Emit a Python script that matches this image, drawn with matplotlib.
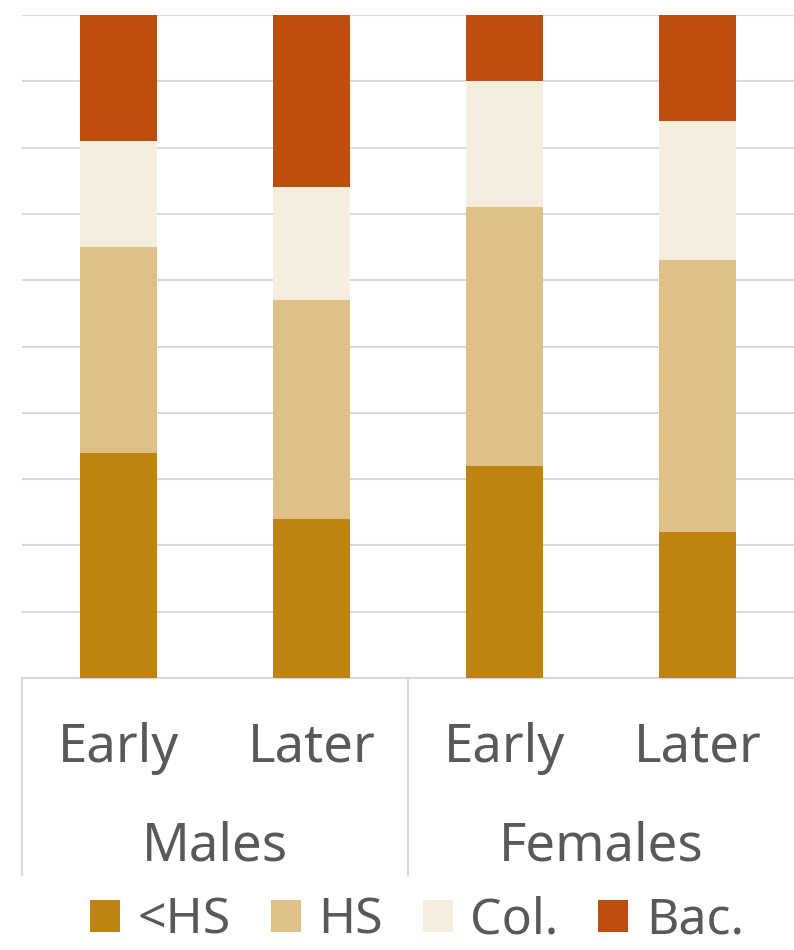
import numpy as np
import matplotlib
matplotlib.use('Agg')
from matplotlib import pyplot as plt
from matplotlib.patches import Patch
import matplotlib.transforms as mtransforms

plt.rcParams['font.family'] = ['Noto Sans', 'DejaVu Sans']

# data (shares in %)
groups = ['Males', 'Females']
periods = ['Early', 'Later', 'Early', 'Later']
levels = ['<HS', 'HS', 'Col.', 'Bac.']
less_hs = [34, 24, 32, 22]
hs = [31, 33, 39, 41]
col = [16, 17, 19, 21]
bac = [19, 26, 10, 16]

colors = ['#BF830F', '#DFC088', '#F5EDDE', '#BE4E0E']
text_col = '#595959'
grid_col = '#D9D9D9'

fig = plt.figure(figsize=(7.94, 9.5), dpi=100)
ax = fig.add_axes([22 / 794, 272 / 950, 772 / 794, 663 / 950])

x = np.arange(len(periods))
bottom = np.zeros(len(periods))
for vals, c, lab in zip([less_hs, hs, col, bac], colors, levels):
    ax.bar(x, vals, width=0.4, bottom=bottom, color=c, label=lab, zorder=3)
    bottom += np.array(vals)

ax.set_xlim(-0.5, 3.5)
ax.set_ylim(0, 100)
ax.set_yticks(np.arange(0, 101, 10))
ax.yaxis.grid(True, color=grid_col, lw=1.5, zorder=0)
ax.tick_params(left=False, labelleft=False, bottom=False, labelbottom=False)
for s in ['top', 'right', 'left']:
    ax.spines[s].set_visible(False)
ax.spines['bottom'].set_color(grid_col)
ax.spines['bottom'].set_linewidth(1.5)

# two-level category axis
trans = mtransforms.blended_transform_factory(ax.transData, ax.transAxes)
for xi, p in zip(x, periods):
    ax.text(xi, -0.106, p, transform=trans, ha='center', va='center',
            fontsize=38, color=text_col)
for gi, g in enumerate(groups):
    ax.text(gi * 2 + 0.5, -0.255, g, transform=trans, ha='center', va='center',
            fontsize=38, color=text_col)
for sx in [-0.5, 1.5]:
    ax.plot([sx, sx], [0, -0.297], transform=trans, color=grid_col, lw=1.5,
            clip_on=False)

handles = [Patch(facecolor=c, label=l) for c, l in zip(colors, levels)]
fig.legend(handles=handles, loc='center', bbox_to_anchor=(0.525, 0.031), ncol=4,
           frameon=False, fontsize=36, handlelength=0.6, handleheight=0.6,
           handletextpad=0.35, columnspacing=0.8, labelcolor=text_col,
           borderaxespad=0, borderpad=0)

fig.savefig('out.png', dpi=100)
